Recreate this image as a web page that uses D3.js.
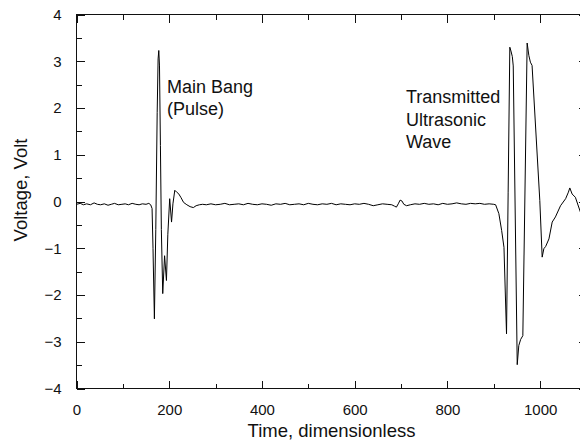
<!DOCTYPE html>
<html>
<head>
<meta charset="utf-8">
<script src="https://cdn.jsdelivr.net/npm/d3@7"></script>
<style>
  html, body { margin: 0; padding: 0; background: #fff; }
  svg { display: block; }
  text { font-family: "Liberation Sans", Arial, Helvetica, sans-serif; fill: #111; }
</style>
</head>
<body>
<svg id="chart" width="580" height="445"></svg>
<script>
// ---- Data (time, voltage) ----
const leadIn = [[0,-0.06],[8,-0.04],[15,-0.07],[22,-0.05],[30,-0.07],[38,-0.03],[45,-0.06],[52,-0.07],
  [60,-0.05],[68,-0.08],[75,-0.06],[82,-0.04],[90,-0.07],[98,-0.06],[105,-0.05],[112,-0.07],[120,-0.04],
  [128,-0.06],[135,-0.07],[142,-0.05],[150,-0.06],[156,-0.04],[160,-0.07]];

const mainBang = [[163,-0.15],[165,-1.0],[168,-2.51],[171,-0.6],[174,1.9],[176,3.05],[177.5,3.23],
  [179,2.9],[181,1.2],[183,-0.6],[186,-1.97],[190,-1.16],[194,-1.69],[197,-0.7],[201,0.06],[205,-0.44],
  [208,-0.05],[212,0.24],[216,0.2],[220,0.17],[225,0.09],[231,-0.02],[238,-0.07],[245,-0.11],[252,-0.13],
  [258,-0.09],[265,-0.07]];

const quiet = [[272,-0.06],[280,-0.07],[290,-0.05],[300,-0.07],[310,-0.06],[320,-0.04],[330,-0.07],
  [340,-0.06],[350,-0.05],[360,-0.07],[370,-0.04],[380,-0.06],[390,-0.07],[400,-0.05],[410,-0.06],
  [420,-0.08],[430,-0.05],[440,-0.06],[450,-0.04],[460,-0.07],[470,-0.06],[480,-0.05],[490,-0.07],
  [500,-0.04],[510,-0.06],[520,-0.07],[530,-0.05],[540,-0.06],[550,-0.04],[560,-0.07],[570,-0.05],
  [580,-0.06],[590,-0.07],[600,-0.05],[610,-0.06],[620,-0.04],[630,-0.06],[640,-0.09],[650,-0.07],
  [660,-0.05],[670,-0.06],[680,-0.07],[686,-0.1],[690,-0.12],[694,-0.05],[698,0.03],[702,0.01],
  [706,-0.06],[712,-0.09],[720,-0.07],[730,-0.05],[740,-0.06],[750,-0.04],[760,-0.06],[770,-0.05],
  [780,-0.07],[790,-0.04],[800,-0.06],[810,-0.05],[820,-0.03],[830,-0.05],[840,-0.06],[850,-0.04],
  [860,-0.05],[870,-0.04],[880,-0.06],[890,-0.05],[900,-0.06]];

const wave = [[904,-0.07],[911,-0.26],[917,-0.62],[922,-0.98],[925,-2.0],[927.5,-2.83],[931,0.2],
  [934.6,3.30],[937,3.22],[940,3.1],[942,2.9],[950.6,-3.49],[954,-3.08],[958,-2.95],[962.7,-2.87],
  [972,3.39],[975.7,3.12],[979,2.98],[982.6,2.91],[999.3,0.02],[1004.4,-1.19],[1008,-1.01],
  [1012,-0.96],[1019,-0.80],[1026,-0.44],[1033,-0.33],[1044,-0.09],[1055,0.06],[1061,0.2],
  [1064,0.29],[1069,0.16],[1076,0.09],[1087,-0.23],[1094,-0.33],[1100,-0.38]];

const xTicks = [0, 200, 400, 600, 800, 1000];
const yTicks = [-4, -3, -2, -1, 0, 1, 2, 3, 4];
const xTitle = "Time, dimensionless";
const yTitle = "Voltage, Volt";
const noteMain = ["Main Bang", "(Pulse)"];
const noteWave = ["Transmitted", "Ultrasonic", "Wave"];

// ---- Layout ----
const svg = d3.select("#chart");
const L = 76.5, R = 586.5, T = 14.5, B = 388.5;
const x = d3.scaleLinear().domain([0, 1100]).range([L, R]);
const y = d3.scaleLinear().domain([-4, 4]).range([B, T]);

const series = [...leadIn, ...mainBang, ...quiet, ...wave];

svg.append("defs").append("clipPath").attr("id", "clip")
  .append("rect").attr("x", L).attr("y", T).attr("width", R - L).attr("height", B - T);

svg.append("path")
  .datum(series)
  .attr("clip-path", "url(#clip)")
  .attr("fill", "none")
  .attr("stroke", "#000")
  .attr("stroke-width", 1)
  .attr("stroke-linejoin", "round")
  .attr("d", d3.line().x(d => x(d[0])).y(d => y(d[1])));

const xMinor = d3.range(0, 1101, 100);
const yMinor = d3.range(-4, 4.01, 0.5);
const MAJ = 8, MIN = 5;

function styleAxis(g) {
  g.select(".domain").remove();
  g.selectAll(".tick line").attr("stroke", "#111").attr("stroke-width", 1).attr("shape-rendering", "crispEdges");
  g.selectAll(".tick text").attr("font-size", 15).attr("fill", "#111")
    .attr("font-family", '"Liberation Sans", Arial, sans-serif');
}

// bottom: minor inward ticks, then major with labels
svg.append("g").attr("transform", `translate(0,${B})`)
  .call(d3.axisBottom(x).tickValues(xMinor).tickSize(-MIN).tickFormat(""))
  .call(styleAxis);
svg.append("g").attr("transform", `translate(0,${B})`)
  .call(d3.axisBottom(x).tickValues(xTicks).tickSize(-MAJ).tickPadding(MAJ + 8).tickFormat(d3.format("d")))
  .call(styleAxis);
// top
svg.append("g").attr("transform", `translate(0,${T})`)
  .call(d3.axisTop(x).tickValues(xMinor).tickSize(-MIN).tickFormat(""))
  .call(styleAxis);
svg.append("g").attr("transform", `translate(0,${T})`)
  .call(d3.axisTop(x).tickValues(xTicks).tickSize(-MAJ).tickFormat(""))
  .call(styleAxis);
// left
svg.append("g").attr("transform", `translate(${L},0)`)
  .call(d3.axisLeft(y).tickValues(yMinor).tickSize(-MIN).tickFormat(""))
  .call(styleAxis);
svg.append("g").attr("transform", `translate(${L},0)`)
  .call(d3.axisLeft(y).tickValues(yTicks).tickSize(-MAJ).tickPadding(MAJ + 7).tickFormat(d3.format("d")))
  .call(styleAxis);
// right
svg.append("g").attr("transform", `translate(${R},0)`)
  .call(d3.axisRight(y).tickValues(yMinor).tickSize(-MIN).tickFormat(""))
  .call(styleAxis);
svg.append("g").attr("transform", `translate(${R},0)`)
  .call(d3.axisRight(y).tickValues(yTicks).tickSize(-MAJ).tickFormat(""))
  .call(styleAxis);

// frame
svg.append("rect").attr("x", L).attr("y", T).attr("width", R - L).attr("height", B - T)
  .attr("fill", "none").attr("stroke", "#111").attr("stroke-width", 1).attr("shape-rendering", "crispEdges");

// axis titles
svg.append("text").attr("x", (L + R) / 2).attr("y", 437).attr("text-anchor", "middle")
  .attr("font-size", 18.5).text(xTitle);
svg.append("text").attr("transform", "translate(27,190) rotate(-90)").attr("text-anchor", "middle")
  .attr("font-size", 18.5).text(yTitle);

// annotations
const n1 = svg.append("text").attr("font-size", 18);
noteMain.forEach((s, i) => n1.append("tspan").attr("x", 167).attr("y", 93 + i * 21.5).text(s));
const n2 = svg.append("text").attr("font-size", 18);
noteWave.forEach((s, i) => n2.append("tspan").attr("x", 406).attr("y", 103 + i * 22.5).text(s));
</script>
</body>
</html>
